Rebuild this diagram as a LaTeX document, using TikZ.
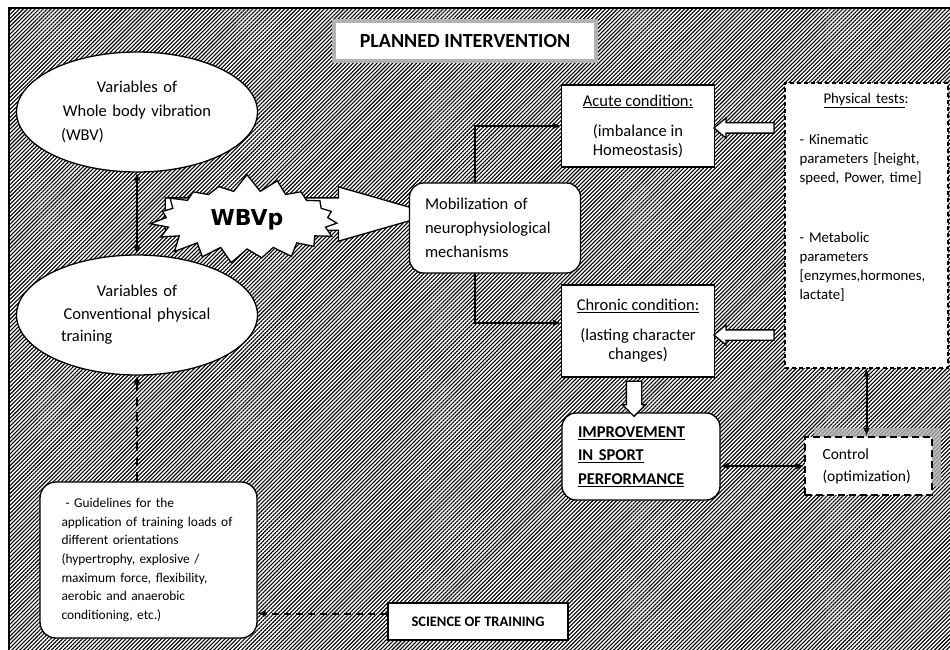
\documentclass[tikz,border=0pt]{standalone}
\usepackage{fontspec}
\setmainfont{Carlito}
\newfontfamily\wbvfont{DejaVu Sans}
\usetikzlibrary{shapes.geometric,shapes.symbols,shapes.arrows,calc}
\usetikzlibrary{patterns.meta,arrows.meta,shadows}

\begin{document}
\begin{tikzpicture}[x=1pt,y=-1pt,
    box/.style={draw=black, fill=white, line width=1.3pt, inner sep=0pt},
    roundbox/.style={box, rounded corners=14pt},
    oval/.style={ellipse, draw=black, fill=white, line width=1.3pt, inner sep=0pt,
        minimum width=241pt, minimum height=120pt, text width=152pt, align=center},
    hollow/.style={single arrow, draw=black, fill=white, line width=1.3pt,
        inner xsep=0pt, single arrow head indent=0pt},
    tip/.style={-{Latex[length=8pt,width=7pt]}},
    both/.style={{Latex[length=8pt,width=7pt]}-{Latex[length=8pt,width=7pt]}},
    txt/.style={font=\fontsize{16.5}{19}\selectfont}]

    \useasboundingbox (0,0) rectangle (950,650);
    \fill[white] (0,0) rectangle (950,650);
    \fill[pattern={Lines[angle=45,distance=2.8pt,line width=1.1pt]}] (9,8) rectangle (951,651);
    \draw[line width=1.6pt] (9,651) -- (9,8) -- (951,8);

    % title
    \node[box, draw=gray!60, line width=3.5pt, minimum width=262pt, minimum height=40pt,
        font=\fontsize{20}{22}\selectfont\bfseries] (title) at (465,41) {PLANNED INTERVENTION};

    % left column
    \node[oval, font=\fontsize{16.5}{24}\selectfont] (wbv) at (137,112)
        {Variables of\\Whole body vibration\\\makebox[152pt][l]{(WBV)}};
    \node[oval, font=\fontsize{16.5}{22.5}\selectfont] (conv) at (137,315)
        {Variables of\\Conventional physical\\\makebox[152pt][l]{training}};
    \node[roundbox, rounded corners=16pt, minimum width=217pt, minimum height=156pt,
        text width=174pt, align=left, font=\fontsize{13.4}{18.7}\selectfont] (guide) at (148.5,560)
        {\hspace*{4pt}- Guidelines for the\\application of training loads of\\different orientations\\(hypertrophy, explosive /\\maximum force, flexibility,\\aerobic and anaerobic\\conditioning, etc.)};
    \node[box, minimum width=180pt, minimum height=37pt,
        font=\fontsize{14.5}{16}\selectfont\bfseries] (science) at (478,621.5) {SCIENCE OF TRAINING};

    % WBVp
    \node[hollow, inner ysep=15.5pt, minimum height=268pt, single arrow head extend=11pt,
        single arrow tip angle=32] (wbvarrow) at (271,214) {};
    \node[starburst, draw=black, fill=white, line width=1.3pt, minimum width=198pt, minimum height=94pt,
        starburst points=19, starburst point height=18pt, random starburst=7, inner sep=0pt,
        font=\wbvfont\fontsize{22}{24}\selectfont\bfseries] (wbvp) at (247,220) {WBVp};

    % middle column
    \node[roundbox, minimum width=171pt, minimum height=90pt, text width=140pt, align=left,
        font=\fontsize{16.5}{24}\selectfont] (mob) at (495,228)
        {Mobilization of\\neurophysiological\\mechanisms};
    \node[box, txt, minimum width=153pt, minimum height=82pt, align=center] (acute) at (638,126)
        {\underline{Acute condition:}\\[11pt](imbalance in\\Homeostasis)};
    \node[box, txt, minimum width=153pt, minimum height=92pt, align=center] (chronic) at (638,331)
        {\underline{Chronic condition:}\\[11pt](lasting character\\changes)};
    \node[roundbox, minimum width=158pt, minimum height=87pt, text width=126pt, align=left,
        font=\fontsize{16.5}{23.5}\selectfont\bfseries] (perf) at (641,456.5)
        {\underline{IMPROVEMENT}\\\underline{IN SPORT}\\\underline{PERFORMANCE}};

    % right column
    \node[box, dash pattern=on 4pt off 3pt, minimum width=163pt, minimum height=285pt] (tests) at (866.5,225.5) {};
    \node[anchor=north west, inner sep=0pt, text width=140pt, align=left,
        font=\fontsize{14.8}{19}\selectfont] (teststxt) at ($(tests.north west)+(15,11)$)
        {\makebox[133pt][c]{\underline{Physical tests}:}\\[22pt]- Kinematic\\parameters [height,\\speed, Power, time]\\[41pt]- Metabolic\\parameters\\{[}enzymes,hormones,\\lactate]};
    \node[box, line width=2.4pt, dash pattern=on 7pt off 4pt, minimum width=127pt, minimum height=58pt,
        text width=92pt, align=left, font=\fontsize{15.5}{22}\selectfont,
        drop shadow={shadow xshift=9pt, shadow yshift=9pt, fill=gray!60, opacity=0.8}] (ctrl) at (868.5,466)
        {Control\\(optimization)};

    % hollow arrows
    \node[hollow, rotate=180, inner ysep=4.5pt, minimum height=60pt, single arrow head extend=5pt,
        single arrow tip angle=80] (toacute) at (747,128) {};
    \node[hollow, rotate=180, inner ysep=4.5pt, minimum height=60pt, single arrow head extend=5pt,
        single arrow tip angle=80] (tochronic) at (747,335) {};
    \node[hollow, rotate=-90, inner ysep=7pt, minimum height=35pt, single arrow head extend=4pt] (toperf) at (634,395) {};

    % connectors
    \draw[both, line width=2.6pt] (wbv.south) -- (conv.north);
    \draw[tip, line width=2pt] ($(mob.north)+(-20,0)$) |- (acute.west);
    \draw[tip, line width=2pt] ($(mob.south)+(-20,0)$) |- ($(chronic.west)+(0,-8)$);
    \draw[both, line width=2pt] (tests.south) -- (tests.south |- ctrl.north);
    \draw[both, line width=2pt] (perf.east |- ctrl.west) -- (ctrl.west);
    \draw[tip, dash pattern=on 9pt off 6pt, line width=2.4pt] (guide.north -| conv.south) -- (conv.south);
    \coordinate (sciarrow) at ($(science.west)+(0,-8)$);
    \draw[tip, dash pattern=on 7pt off 5pt, line width=2pt] (sciarrow) -- (sciarrow -| guide.east);

\end{tikzpicture}
\end{document}
